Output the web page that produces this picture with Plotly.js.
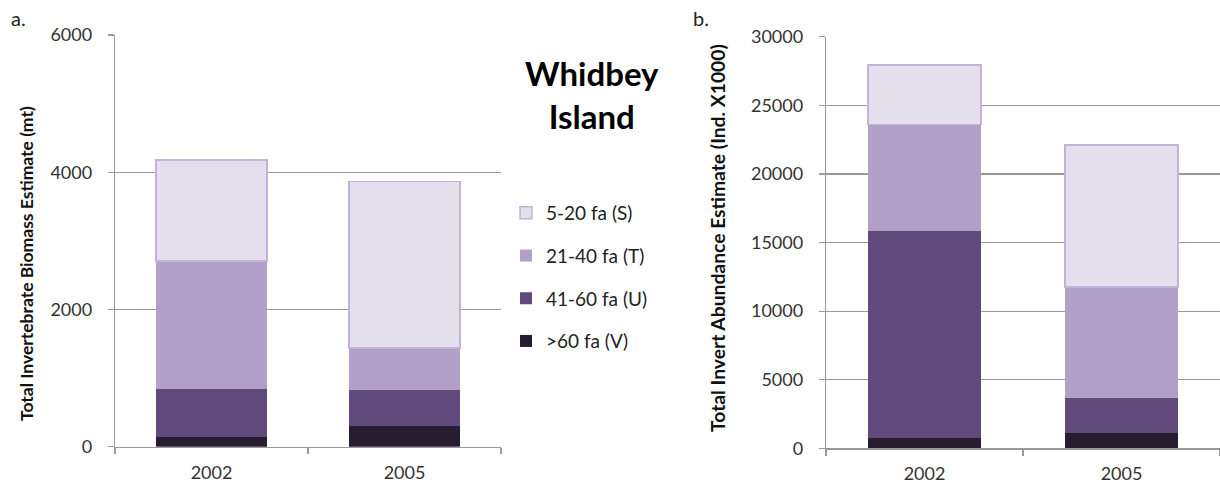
<!DOCTYPE html>
<html>
<head>
<meta charset="utf-8">
<script src="https://cdn.plot.ly/plotly-3.0.1.min.js"></script>
<style>html,body{margin:0;padding:0;background:#fff;}#chart{width:1220px;height:486px;}</style>
</head>
<body>
<div id="chart"></div>
<script>
// ---- data ----
const years = ["2002", "2005"];
const seriesNames = ["5-20 fa (S)", "21-40 fa (T)", "41-60 fa (U)", ">60 fa (V)"];
// Biomass (mt), panel a
const biomassS = [1470, 2430];
const biomassT = [1865, 615];
const biomassU = [705, 520];
const biomassV = [137, 302];
// Abundance (Ind. X1000), panel b
const abundS = [4320, 10320];
const abundT = [7770, 8080];
const abundU = [15060, 2600];
const abundV = [770, 1090];
const yTicksA = [0, 2000, 4000, 6000];
const yTicksB = [0, 5000, 10000, 15000, 20000, 25000, 30000];

const colors = {S: "#E4DFEC", T: "#B1A0C7", U: "#604A7B", V: "#261D30"};
const font = "Lato, 'Open Sans', sans-serif";

function mk(name, y, color, xa, ya, show, group, rank, outline) {
  return {
    type: "bar", x: years, y: y, name: name, xaxis: xa, yaxis: ya,
    legendgroup: group, showlegend: show, legendrank: rank,
    marker: {color: color, line: {color: outline || color, width: outline ? 1.5 : 0}},
    hoverinfo: "none"
  };
}

const data = [
  mk(seriesNames[3], biomassV, colors.V, "x", "y", true, "V", 4),
  mk(seriesNames[2], biomassU, colors.U, "x", "y", true, "U", 3),
  mk(seriesNames[1], biomassT, colors.T, "x", "y", true, "T", 2),
  mk(seriesNames[0], biomassS, colors.S, "x", "y", true, "S", 1, "#C3B3D8"),
  mk(seriesNames[3], abundV, colors.V, "x2", "y2", false, "V", 4),
  mk(seriesNames[2], abundU, colors.U, "x2", "y2", false, "U", 3),
  mk(seriesNames[1], abundT, colors.T, "x2", "y2", false, "T", 2),
  mk(seriesNames[0], abundS, colors.S, "x2", "y2", false, "S", 1, "#C3B3D8")
];

const W = 1220, H = 486;
const gridC = "#9A9A9A";
function xax(d0, d1, anchor) {
  return {
    domain: [d0 / W, d1 / W], anchor: anchor, type: "category",
    showline: true, linecolor: gridC, linewidth: 1.2,
    ticks: "outside", tickson: "boundaries", ticklen: 6, tickcolor: gridC, tickwidth: 1.2,
    showgrid: false, ticklabelstandoff: 9,
    tickfont: {family: font, size: 18, color: "#333"}, fixedrange: true
  };
}
function yax(top, bottom, range, ticks, anchor) {
  return {
    domain: [1 - bottom / H, 1 - top / H], anchor: anchor, range: range,
    tickvals: ticks, ticktext: ticks.map(String),
    showline: true, linecolor: gridC, linewidth: 1.2,
    ticks: "outside", ticklen: 6, tickcolor: gridC, tickwidth: 1.2,
    showgrid: true, gridcolor: gridC, gridwidth: 1.2,
    zeroline: false, ticklabelstandoff: 12,
    tickfont: {family: font, size: 18, color: "#333"}, fixedrange: true
  };
}

function ann(text, x, y, size, angle, color) {
  return {text: text, xref: "paper", yref: "paper", x: x / W, y: 1 - y / H,
    xanchor: "center", yanchor: "middle", showarrow: false, textangle: angle || 0,
    align: "center", font: {family: font, size: size, color: color || "#222"}};
}

const layout = {
  width: W, height: H,
  margin: {l: 0, r: 0, t: 0, b: 0},
  paper_bgcolor: "#fff", plot_bgcolor: "rgba(0,0,0,0)",
  barmode: "stack", bargap: 0.425,
  font: {family: font, color: "#222"},
  xaxis: xax(115, 501, "y"),
  yaxis: yax(35, 446.7, [0, 6000], yTicksA, "x"),
  xaxis2: xax(826, 1222, "y2"),
  yaxis2: yax(36.7, 448.3, [0, 30000], yTicksB, "x2"),
  showlegend: true,
  legend: {
    x: 506 / W, y: 1 - 194 / H, xanchor: "left", yanchor: "top",
    traceorder: "grouped", tracegroupgap: 15,
    font: {family: font, size: 19, color: "#222"}, bgcolor: "rgba(0,0,0,0)"
  },
  annotations: [
    ann("<b>Whidbey<br>Island</b>", 592, 94, 33, 0, "#000"),
    ann("a.", 18, 18, 20),
    ann("b.", 701, 18, 20),
    ann("<b>Total Invertebrate Biomass Estimate (mt)</b>", 26, 264, 17.5, -90, "#111"),
    ann("<b>Total Invert Abundance Estimate (Ind. X1000)</b>", 717, 238, 19.3, -90, "#111")
  ]
};

Plotly.newPlot("chart", data, layout, {staticPlot: true, displayModeBar: false});
</script>
</body>
</html>
